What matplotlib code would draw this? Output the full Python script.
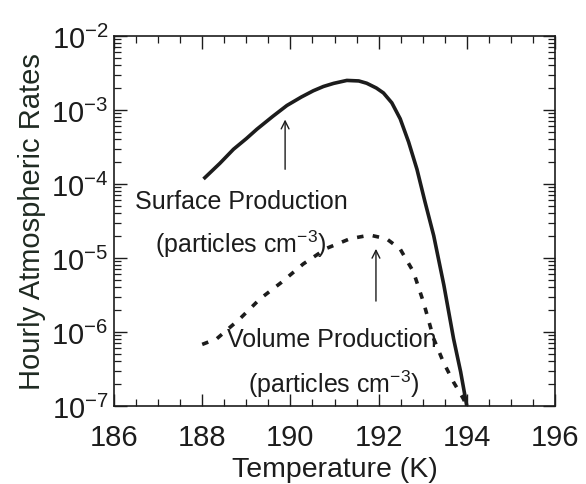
import numpy as np
import matplotlib
matplotlib.use("Agg")
import matplotlib.pyplot as plt
from matplotlib.ticker import LogLocator, MultipleLocator

plt.rcParams['font.family'] = ['Liberation Sans', 'DejaVu Sans']
plt.rcParams['mathtext.fontset'] = 'custom'
plt.rcParams['mathtext.rm'] = 'Liberation Sans'
plt.rcParams['mathtext.it'] = 'Liberation Sans'
plt.rcParams['mathtext.bf'] = 'Liberation Sans'

# Surface production (solid)
surf_T = [188.03, 188.4, 188.71, 189.0, 189.24, 189.6, 189.92, 190.25, 190.52, 190.75, 190.98,
          191.28, 191.55, 191.73, 191.95, 192.11, 192.3, 192.49, 192.68, 192.87, 193.05,
          193.25, 193.48, 193.70, 193.86, 194.00]
surf_R = [1.17e-4, 1.9e-4, 2.95e-4, 4.1e-4, 5.5e-4, 8.2e-4, 1.15e-3, 1.5e-3, 1.82e-3, 2.08e-3, 2.29e-3,
          2.51e-3, 2.47e-3, 2.3e-3, 1.98e-3, 1.7e-3, 1.25e-3, 7.6e-4, 3.7e-4, 1.58e-4, 5.8e-5,
          2.0e-5, 4.3e-6, 8.1e-7, 2.9e-7, 1.0e-7]

# Volume production (dashed)
vol_T = [188.0, 188.33, 188.85, 189.31, 189.80, 190.29, 190.82, 191.35, 191.80, 192.18,
         192.49, 192.79, 193.02, 193.25, 193.47, 193.70, 193.92, 194.0]
vol_R = [6.8e-7, 8.1e-7, 1.5e-6, 2.8e-6, 4.7e-6, 8.3e-6, 1.35e-5, 1.82e-5, 2.04e-5, 1.82e-5,
         1.32e-5, 6.5e-6, 2.5e-6, 8.1e-7, 3.9e-7, 2.1e-7, 1.26e-7, 1.0e-7]

x_ticks = [186, 188, 190, 192, 194, 196]
y_ticks = [1e-7, 1e-6, 1e-5, 1e-4, 1e-3, 1e-2]
y_ticklabels = ['10$^{-7}$', '10$^{-6}$', '10$^{-5}$', '10$^{-4}$', '10$^{-3}$', '10$^{-2}$']

ink = '#1c1c1c'

fig = plt.figure(figsize=(5.86, 4.85), dpi=100)
ax = fig.add_axes([114/586, 1-407/485, (555-114)/586, (407-37)/485])

ax.plot(surf_T, surf_R, color=ink, lw=2.6, solid_capstyle='butt', solid_joinstyle='round')
ax.plot(vol_T, vol_R, color=ink, lw=2.6, linestyle=(0, (1.8, 2.6)))

ax.set_yscale('log')
ax.set_xlim(186, 196)
ax.set_ylim(1e-7, 1e-2)
ax.set_xticks(x_ticks)
ax.set_xticklabels([str(t) for t in x_ticks])
ax.xaxis.set_minor_locator(MultipleLocator(0.5))
ax.set_yticks(y_ticks)
ax.set_yticklabels(y_ticklabels)
ax.yaxis.set_minor_locator(LogLocator(base=10, subs=np.arange(2, 10), numticks=20))

ax.tick_params(which='both', direction='in', top=True, right=True, color=ink)
ax.tick_params(which='major', length=9, width=1.0, labelsize=21, colors=ink)
ax.tick_params(axis='x', which='major', pad=12)
ax.tick_params(axis='y', which='major', pad=4)
ax.tick_params(which='minor', length=5, width=0.9)
for s in ax.spines.values():
    s.set_color(ink)
    s.set_linewidth(1.2)

ax.set_xlabel('Temperature (K)', fontsize=20.5, color=ink, labelpad=4)
ax.set_ylabel('Hourly Atmospheric Rates', fontsize=21, color='#1f2a22', labelpad=4)

# arrows
ax.annotate('', xy=(189.88, 8.1e-4), xytext=(189.88, 1.45e-4),
            arrowprops=dict(arrowstyle='->', color=ink, lw=1.0, mutation_scale=14))
ax.annotate('', xy=(191.94, 1.45e-5), xytext=(191.94, 2.4e-6),
            arrowprops=dict(arrowstyle='->', color=ink, lw=1.0, mutation_scale=14))

# labels
ax.text(186.48, 5.9e-5, 'Surface Production', fontsize=18, color=ink, va='center', ha='left')
ax.text(186.93, 1.58e-5, '(particles cm$^{-3}$)', fontsize=18, color=ink, va='center', ha='left')
ax.text(188.56, 8.1e-7, 'Volume Production', fontsize=18, color=ink, va='center', ha='left')
ax.text(189.04, 2.0e-7, '(particles cm$^{-3}$)', fontsize=18, color=ink, va='center', ha='left')

fig.savefig('out.png', dpi=100)
